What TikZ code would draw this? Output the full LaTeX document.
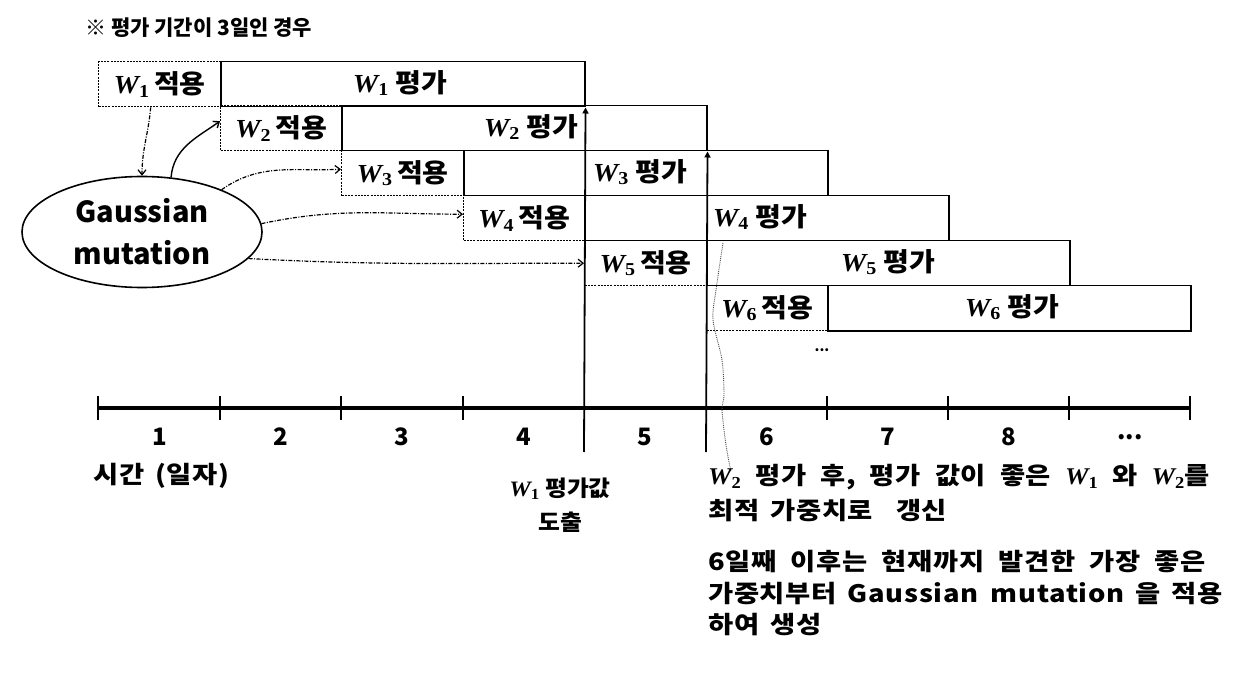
\documentclass[tikz,border=0pt]{standalone}
\usepackage{fontspec}
\setmainfont{Noto Sans CJK KR}
\newfontfamily\spaced{Noto Sans CJK KR}[LetterSpace=3,FakeStretch=1.14]
\newfontfamily\lblfont{Noto Sans CJK KR}[FakeStretch=1.08]
\newfontfamily\wfont{Liberation Serif}[FakeStretch=1.1]
\usetikzlibrary{arrows.meta,shapes.geometric,calc}
\newcommand\WW[1]{{\wfont\bfseries\itshape W}\textsubscript{\wfont\bfseries #1}}
\newcommand\widesp{\spaceskip=11pt\relax}
\newcommand\widersp{\spaceskip=14pt\relax}
\begin{document}
\begin{tikzpicture}[x=1pt,y=-1pt,
  applybox/.style={draw, dash pattern=on 2pt off 1.2pt, line width=1.4pt, minimum height=45pt, inner sep=0pt, anchor=north west, font=\lblfont\bfseries\fontsize{26}{28}\selectfont},
  evalbox/.style={draw, line width=1.5pt, minimum height=45pt, inner sep=0pt, anchor=north west},
  lbl/.style={font=\lblfont\bfseries\fontsize{26}{28}\selectfont, inner sep=0pt},
  txt/.style={font=\spaced\bfseries\fontsize{24}{29}\selectfont\widesp, inner sep=0pt, anchor=west},
  num/.style={font=\bfseries\fontsize{24}{26}\selectfont, inner sep=0pt},
  gmarrow/.style={line width=1.2pt, dash pattern=on 4pt off 1.5pt on 1pt off 1.5pt, -{Straight Barb[length=5pt,width=8pt]}},
  vline/.style={line width=1.8pt, -{Triangle[length=6pt,width=6pt]}},
  tick/.style={line width=2.5pt}
]
\useasboundingbox (0,0) rectangle (1234,676);
% title
\node[font=\bfseries\fontsize{21}{24}\selectfont, inner sep=0pt, anchor=west] (title) at (85,28) {※ 평가 기간이 3일인 경우};
% evaluation boxes
\node[evalbox, minimum width=364pt] (e1) at (220,61) {};
\node[evalbox, minimum width=365pt] (e2) at (341,105) {};
\node[evalbox, minimum width=364pt] (e3) at (463,150) {};
\node[evalbox, minimum width=364pt] (e4) at (584,195) {};
\node[evalbox, minimum width=363pt] (e5) at (706,240) {};
\node[evalbox, minimum width=363pt] (e6) at (827,285) {};
% apply boxes
\node[applybox, minimum width=122pt] (a1) at (98,61) {\WW{1}\,적용};
\node[applybox, minimum width=121pt] (a2) at (220,105) {\WW{2}\,적용};
\node[applybox, minimum width=122pt] (a3) at (341,150) {\WW{3}\,적용};
\node[applybox, minimum width=121pt] (a4) at (463,195) {\WW{4}\,적용};
\node[applybox, minimum width=122pt] (a5) at (584,240) {\WW{5}\,적용};
\node[applybox, minimum width=121pt] (a6) at (706,285) {\WW{6}\,적용};
% eval labels
\node[lbl] (l1) at (400,83) {\WW{1} 평가};
\node[lbl] (l2) at (531,127) {\WW{2} 평가};
\node[lbl] (l3) at (640,172) {\WW{3} 평가};
\node[lbl] (l4) at (760,217) {\WW{4} 평가};
\node[lbl] (l5) at (888,262) {\WW{5} 평가};
\node[lbl] (l6) at (1012,307) {\WW{6} 평가};
\node[font=\bfseries\fontsize{14}{16}\selectfont, inner sep=0pt] (dots) at (822,350) {...};
% ellipse
\node[draw, ellipse, line width=1.6pt, minimum width=240pt, minimum height=111pt, inner sep=0pt,
      align=center, font=\bfseries\fontsize{29}{42}\selectfont] (gm) at (142,232) {Gaussian\\mutation};
% arrows from/to ellipse
\draw[gmarrow] ([xshift=-9pt]a1.south) to[out=-95,in=90] (gm.90);
\draw[line width=1.4pt, -{Straight Barb[length=5pt,width=8pt]}] (gm.62) to[out=85,in=215] ([yshift=7pt]a2.west);
\draw[gmarrow] (gm.28) to[out=35,in=183] ([yshift=4pt]a3.west);
\draw[gmarrow] (gm.4) to[out=12,in=180] ([yshift=4pt]a4.west);
\draw[gmarrow] (gm.-14) to[out=-3,in=180] (a5.west);
% timeline
\coordinate (t0) at (98,408);
\coordinate (t1) at (220,408);
\coordinate (t2) at (341,408);
\coordinate (t3) at (463,408);
\coordinate (t4) at (584,408);
\coordinate (t5) at (706,408);
\coordinate (t6) at (827,408);
\coordinate (t7) at (948,408);
\coordinate (t8) at (1069,408);
\coordinate (t9) at (1190,408);
\draw[line width=4pt] (t0) -- (t9);
\foreach \t in {t0,t1,t2,t3,t6,t7,t8,t9}{
  \draw[tick] ([yshift=12pt]\t) -- ([yshift=-12pt]\t);
}
% vertical lines
\coordinate (v1b) at (584,452);
\coordinate (v2b) at (706,452);
\draw[vline] (v1b) -- (e1.south east);
\draw[vline] (v2b) -- (e2.south east);
% dotted trace
\draw[densely dotted, line width=0.9pt, black!70] plot[smooth] coordinates {(723,243) (716,290) (713,320) (722,360) (724,395) (722,410) (726,445) (731,472)};
% numbers
\node[num] (n1) at (160,437) {1};
\node[num] (n2) at (281,437) {2};
\node[num] (n3) at (402,437) {3};
\node[num] (n4) at (524,437) {4};
\node[num] (n5) at (645,437) {5};
\node[num] (n6) at (767,437) {6};
\node[num] (n7) at (888,437) {7};
\node[num] (n8) at (1009,437) {8};
\node[num] (n9) at (1130,437) {...};
% bottom texts
\node[txt] (time) at (93,476) {시간 (일자)};
\node[font=\lblfont\bfseries\fontsize{22}{34}\selectfont, inner sep=0pt, align=center] (w1v) at (560,505) {\WW{1} 평가값\\도출};
\node[txt] (r1) at (708,477) {\widersp\WW{2} 평가 후, 평가 값이 좋은 \WW{1} 와 \WW{2}를};
\node[txt] (r2) at (708,511) {최적 가중치로\hspace{12pt} 갱신};
\node[txt] (r3) at (708,561) {\widersp 6일째 이후는 현재까지 발견한 가장 좋은};
\node[txt] (r4) at (708,594) {가중치부터 Gaussian\hspace{1pt} mutation 을 적용};
\node[txt] (r5) at (708,625) {하여 생성};
\end{tikzpicture}
\end{document}
